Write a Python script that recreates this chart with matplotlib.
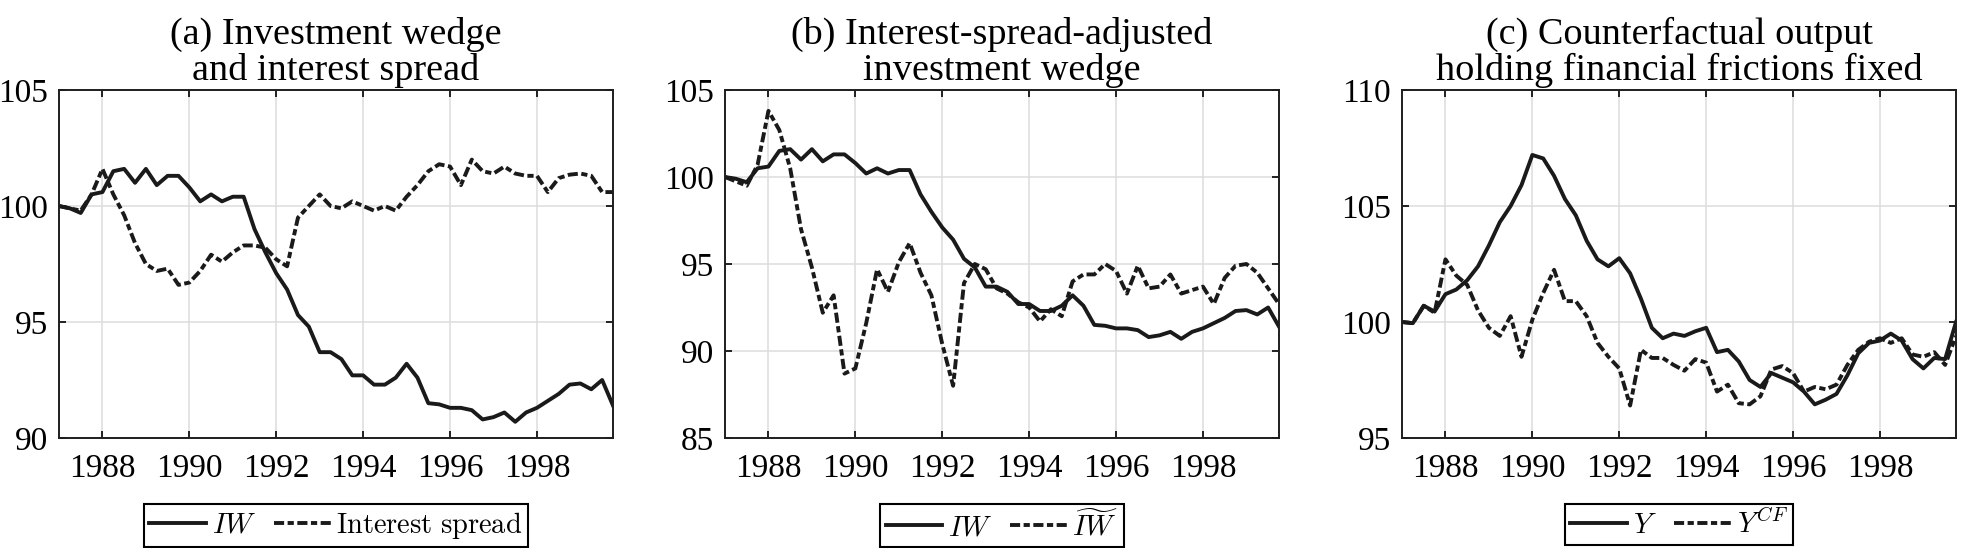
import numpy as np
import matplotlib
matplotlib.use("Agg")
import matplotlib.pyplot as plt

plt.rcParams['font.family'] = ['Liberation Serif', 'DejaVu Serif']
plt.rcParams['mathtext.fontset'] = 'cm'

# quarterly dates 1987Q1 - 1999Q4
dates = 1987 + np.arange(52) / 4

iw = [100.0, 99.9, 99.7, 100.5, 100.6, 101.5, 101.6, 101.0, 101.6, 100.9,
      101.3, 101.3, 100.8, 100.2, 100.5, 100.2, 100.4, 100.4, 99.0, 98.0,
      97.1, 96.4, 95.3, 94.8, 93.7, 93.7, 93.4, 92.7, 92.7, 92.3,
      92.3, 92.6, 93.2, 92.6, 91.5, 91.45, 91.3, 91.3, 91.2, 90.8,
      90.9, 91.1, 90.7, 91.1, 91.3, 91.6, 91.9, 92.3, 92.35, 92.1,
      92.5, 91.4]

spread = [100.0, 99.9, 99.8, 100.5, 101.6, 100.5, 99.6, 98.4, 97.5, 97.2,
          97.3, 96.6, 96.7, 97.2, 97.9, 97.6, 98.0, 98.3, 98.3, 98.2,
          97.7, 97.4, 99.5, 100.0, 100.5, 100.0, 99.9, 100.2, 100.0, 99.8,
          100.0, 99.8, 100.4, 100.9, 101.5, 101.8, 101.7, 100.9, 102.0, 101.5,
          101.4, 101.7, 101.4, 101.3, 101.3, 100.6, 101.2, 101.35, 101.4, 101.3,
          100.6, 100.6]

iw_adj = [100.0, 99.75, 99.5, 100.7, 103.8, 102.7, 100.5, 97.0, 94.8, 92.2,
          93.2, 88.7, 89.0, 91.6, 94.7, 93.4, 95.1, 96.2, 94.5, 93.2,
          90.4, 88.0, 93.9, 95.0, 94.7, 93.6, 93.3, 92.8, 92.5, 91.7,
          92.4, 92.0, 94.0, 94.4, 94.4, 95.0, 94.6, 93.3, 94.9, 93.6,
          93.7, 94.4, 93.3, 93.5, 93.7, 92.7, 94.2, 94.9, 95.0, 94.5,
          93.6, 92.7]

y_out = [100.0, 99.95, 100.7, 100.45, 101.2, 101.4, 101.8, 102.4, 103.3, 104.3,
         105.0, 105.9, 107.2, 107.05, 106.3, 105.3, 104.6, 103.5, 102.7, 102.4,
         102.75, 102.1, 101.0, 99.75, 99.3, 99.5, 99.4, 99.6, 99.75, 98.7,
         98.8, 98.3, 97.5, 97.2, 97.8, 97.6, 97.4, 97.0, 96.45, 96.65,
         96.9, 97.7, 98.65, 99.1, 99.2, 99.5, 99.2, 98.4, 98.0, 98.45,
         98.4, 100.0]

y_cf = [100.0, 99.95, 100.7, 100.4, 102.7, 102.0, 101.6, 100.5, 99.75, 99.4,
        100.25, 98.5, 100.1, 101.25, 102.25, 100.9, 100.9, 100.25, 99.1, 98.5,
        98.0, 96.4, 98.8, 98.45, 98.45, 98.15, 97.9, 98.4, 98.25, 97.0,
        97.3, 96.5, 96.45, 96.8, 97.95, 98.1, 97.8, 97.0, 97.2, 97.1,
        97.3, 98.15, 98.8, 99.15, 99.3, 99.1, 99.3, 98.6, 98.5, 98.7,
        98.15, 99.4]

titles = ['(a) Investment wedge\nand interest spread',
          '(b) Interest-spread-adjusted\ninvestment wedge',
          '(c) Counterfactual output\nholding financial frictions fixed']
ylims = [(90, 105), (85, 105), (95, 110)]
labels = [(r'$IW$', r'$\mathrm{Interest\ spread}$'),
          (r'$IW$', r'$\widetilde{IW}$'),
          (r'$Y$', r'$Y^{CF}$')]
series = [(iw, spread), (iw, iw_adj), (y_out, y_cf)]
xticks = [1988, 1990, 1992, 1994, 1996, 1998]

W, H = 1968, 548
fig = plt.figure(figsize=(W / 100, H / 100), dpi=100)
lefts = [59, 725, 1402]
col = '#1a1a1a'

for k in range(3):
    ax = fig.add_axes([lefts[k] / W, 1 - 438 / H, 554 / W, 348 / H])
    s1, s2 = series[k]
    ax.plot(dates, s1, color=col, lw=2.8, label=labels[k][0])
    ax.plot(dates, s2, color=col, lw=2.8, dashes=(2.6, 0.9, 1.6, 0.9), label=labels[k][1])
    ax.set_xlim(1987, 1999.75)
    ax.set_ylim(*ylims[k])
    ax.set_xticks(xticks)
    ax.set_yticks(np.arange(ylims[k][0], ylims[k][1] + 1, 5))
    ax.grid(True, color='#dcdcdc', lw=1.1)
    ax.set_axisbelow(True)
    ax.tick_params(direction='in', top=True, right=True, length=5, width=1.2,
                   labelsize=24)
    ax.tick_params(axis='y', pad=8)
    ax.tick_params(axis='x', pad=11)
    for sp in ax.spines.values():
        sp.set_linewidth(1.4)
        sp.set_color('#1e1e1e')
    ax.set_title(titles[k], fontsize=27.5, pad=7, linespacing=1.05)
    leg = ax.legend(loc='upper center', bbox_to_anchor=(0.5, -0.19), ncol=2,
                    fontsize=20.5, frameon=True, fancybox=False,
                    edgecolor='black', framealpha=1, borderpad=0.2,
                    handlelength=2.0, handletextpad=0.2, columnspacing=0.6,
                    borderaxespad=0)
    leg.get_frame().set_linewidth(1.5)

fig.savefig('out.png', dpi=100)
